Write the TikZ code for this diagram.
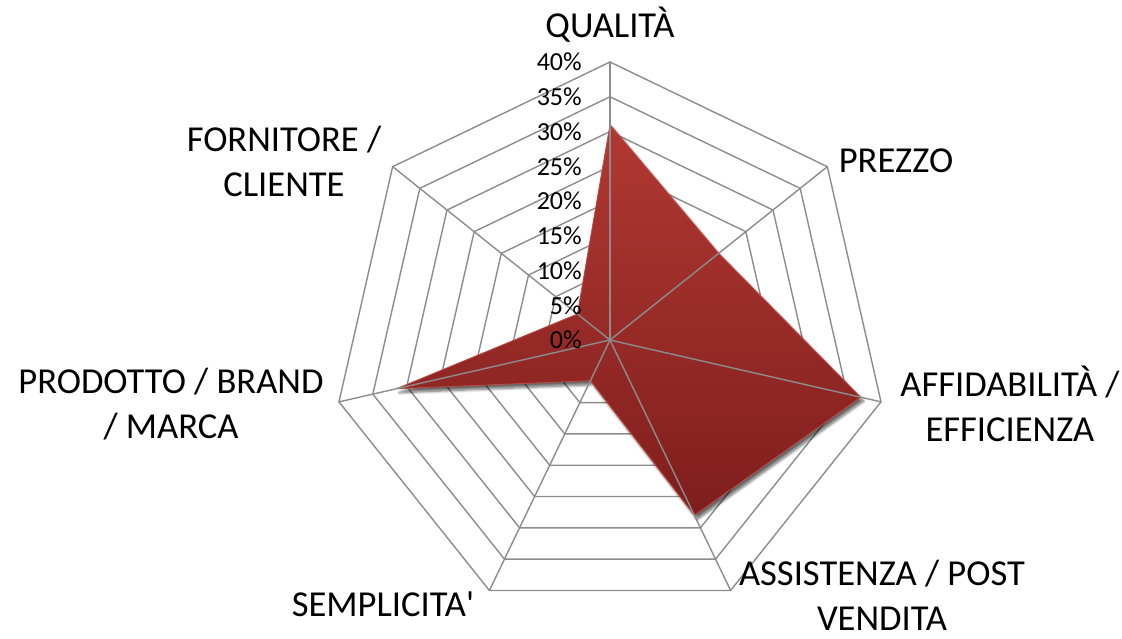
\documentclass[tikz,border=0pt]{standalone}
\usepackage{fontspec}
\setmainfont{Carlito}[Ligatures=TeXOff]
\usetikzlibrary{shadows.blur}
\definecolor{grigio}{RGB}{140,140,140}
\definecolor{rossoalto}{RGB}{178,56,50}
\definecolor{rossobasso}{RGB}{126,30,29}
\definecolor{rossobordo}{RGB}{190,72,66}
\begin{document}
\begin{tikzpicture}[line join=round, line cap=round,
	griglia/.style={draw=grigio,line width=1pt},
	dati/.style={top color=rossoalto,bottom color=rossobasso,draw=rossobordo,line width=0.6pt,
		blur shadow={shadow xshift=0.07cm,shadow yshift=-0.1cm,shadow blur steps=8,shadow opacity=60}},
	tacca/.style={anchor=east,inner sep=0pt,font=\fontsize{18.5}{18.5}\selectfont},
	asse/.style={align=center,inner sep=0pt,font=\fontsize{26}{32}\selectfont}]
		\def\R{6.95} \def\u{0.17375} % raggio 40% e cm per 1%
		\def\a{360/7}
		\useasboundingbox (-15.25,-7.45) rectangle (12.8,8.5);
		\coordinate (O) at (0,0);
		\foreach \i in {0,...,6} \coordinate (v\i) at (90-\i*\a:\R);
		% anelli ogni 5%
		\foreach \k in {1,...,8}
			\draw[griglia] (90:\k*\R/8) \foreach \i in {1,...,6}{-- (90-\i*\a:\k*\R/8)} -- cycle;
		% valori
		\path[dati] (90:31*\u) -- (90-\a:20*\u) -- (90-2*\a:37*\u) -- (90-3*\a:28*\u)
			-- (90-4*\a:6.5*\u) -- (90-5*\a:31.5*\u) -- (90-6*\a:6*\u) -- cycle;
		% raggi
		\foreach \i in {0,...,6} \draw[griglia] (O)--(v\i);
		\foreach \p [count=\k from 0] in {0,5,...,40}
			\node[tacca] (t\p) at (-0.7,\k*\R/8) {\p\%};
		\node[asse] (qualita) at (0,7.875) {QUALITÀ};
		\node[asse] (prezzo) at (7.15,4.47) {PREZZO};
		\node[asse] (affidabilita) at (10.0,-1.6) {AFFIDABILITÀ /\\EFFICIENZA};
		\node[asse] (assistenza) at (6.8,-6.38) {ASSISTENZA / POST\\VENDITA};
		\node[asse] (semplicita) at (-5.675,-6.6) {SEMPLICITA'};
		\node[asse] (prodotto) at (-10.975,-1.6) {PRODOTTO / BRAND\\/ MARCA};
		\node[asse] (fornitore) at (-8.15,4.47) {FORNITORE /\\CLIENTE};
\end{tikzpicture}
\end{document}
